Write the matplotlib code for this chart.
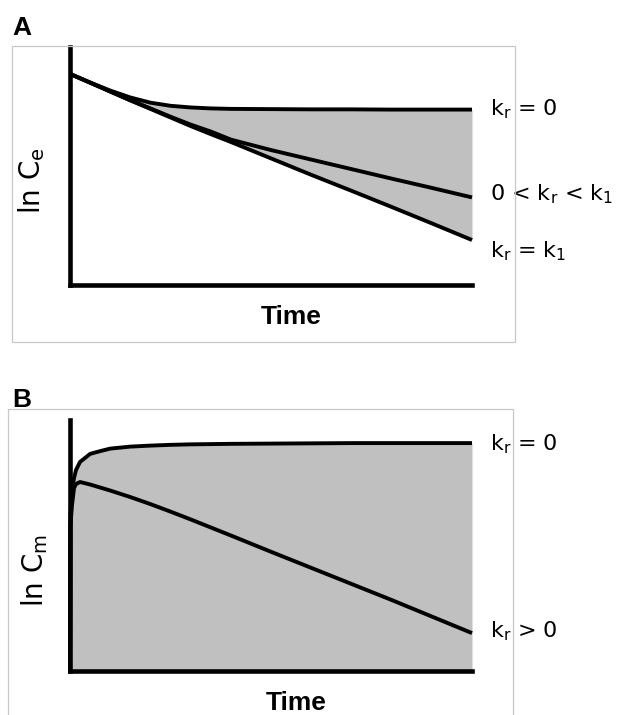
import numpy as np
import matplotlib
matplotlib.use("Agg")
import matplotlib.pyplot as plt
from matplotlib.patches import Rectangle

# panel A: ln Ce vs time, three cases of kr (arbitrary units, axes run 0-100)
time_a = [0, 5, 10, 15, 20, 25, 30, 35, 40, 50, 60, 70, 80, 90, 100]
kr0_a = [88.7, 85.1, 81.7, 78.8, 76.6, 75.3, 74.6, 74.2, 74.0, 73.9, 73.8, 73.8, 73.7, 73.7, 73.7]
krmid_a = [88.7, 85.0, 81.3, 77.6, 74.2, 70.7, 67.4, 64.5, 61.1, 56.7, 52.7, 48.7, 44.7, 40.8, 36.8]
krk1_a = [88.7, 85.0, 81.3, 77.6, 74.0, 70.4, 66.8, 63.4, 60.1, 53.2, 46.3, 39.6, 32.8, 25.9, 18.9]

# panel B: ln Cm vs time
time_b = [0, 0.1, 0.5, 1, 1.5, 2.5, 5, 7.5, 10, 15, 20, 25, 30, 40, 50, 60, 70, 80, 90, 100]
kr0_b = [0, 62.0, 72.1, 76.9, 80.1, 83.3, 86.5, 87.6, 88.6, 89.4, 89.8, 90.1, 90.3, 90.5,
         90.6, 90.7, 90.8, 90.8, 90.8, 90.8]
krpos_b = [0, 58.0, 66.1, 72.9, 74.5, 75.3, 74.3, 73.1, 71.9, 69.3, 66.5, 63.5, 60.4, 54.0,
           47.5, 41.1, 34.7, 28.3, 21.7, 15.1]

W, H = 618, 715
fig = plt.figure(figsize=(W / 100, H / 100), dpi=100)

gray = "#c0c0c0"
frame = "#c8c8c8"
lw_curve = 2.8
lw_axis = 3.3


def make_axes(left, top, right, bottom):
    ax = fig.add_axes([left / W, 1 - bottom / H, (right - left) / W, (bottom - top) / H])
    ax.set_xlim(0, 100)
    ax.set_ylim(0, 100)
    ax.set_xticks([])
    ax.set_yticks([])
    ax.patch.set_alpha(0)
    for side in ("top", "right"):
        ax.spines[side].set_visible(False)
    for side in ("left", "bottom"):
        ax.spines[side].set_linewidth(lw_axis)
        ax.spines[side].set_capstyle("projecting")
    return ax


def curve_label(ax, text, t, v, dy):
    ax.annotate(text, xy=(t, v), xytext=(18, dy), textcoords="offset pixels",
                ha="left", va="baseline", fontsize=16, family="DejaVu Sans",
                annotation_clip=False)


# light frames round each panel
fig.add_artist(Rectangle((12 / W, 1 - 342 / H), 503 / W, 296 / H, transform=fig.transFigure,
                         fill=False, ec=frame, lw=0.9))
fig.add_artist(Rectangle((8 / W, 1 - 730 / H), 505 / W, 321 / H, transform=fig.transFigure,
                         fill=False, ec=frame, lw=0.9))

# ---- A ----
ax1 = make_axes(70, 47, 472, 285)
ax1.fill_between(time_a, krk1_a, kr0_a, color=gray, lw=0, zorder=1)
for vals in (kr0_a, krmid_a, krk1_a):
    ax1.plot(time_a, vals, color="black", lw=lw_curve, clip_on=False, zorder=2,
             solid_capstyle="butt")
curve_label(ax1, r"k$_\mathrm{r}$ = 0", time_a[-1], kr0_a[-1], -6)
curve_label(ax1, r"0 < k$_\mathrm{r}$ < k$_\mathrm{1}$", time_a[-1], krmid_a[-1], -3)
curve_label(ax1, r"k$_\mathrm{r}$ = k$_\mathrm{1}$", time_a[-1], krk1_a[-1], -17)

# ---- B ----
ax2 = make_axes(70, 420, 472, 671)
ax2.fill_between(time_b, 0, kr0_b, color=gray, lw=0, zorder=1)
for vals in (kr0_b, krpos_b):
    ax2.plot(time_b, vals, color="black", lw=lw_curve, clip_on=False, zorder=2,
             solid_capstyle="butt", solid_joinstyle="round")
curve_label(ax2, r"k$_\mathrm{r}$ = 0", time_b[-1], kr0_b[-1], -7)
curve_label(ax2, r"k$_\mathrm{r}$ > 0", time_b[-1], krpos_b[-1], -4)

# axis titles and panel letters
fig.text(32 / W, 1 - 181 / H, r"ln C$_\mathrm{e}$", rotation=90, ha="center", va="center",
         fontsize=20, family="DejaVu Sans")
fig.text(35 / W, 1 - 570 / H, r"ln C$_\mathrm{m}$", rotation=90, ha="center", va="center",
         fontsize=20, family="DejaVu Sans")
fig.text(291 / W, 1 - 317 / H, "Time", ha="center", va="center", fontsize=19,
         fontweight="bold", family="Liberation Sans")
fig.text(296 / W, 1 - 703 / H, "Time", ha="center", va="center", fontsize=19,
         fontweight="bold", family="Liberation Sans")
fig.text(12 / W, 1 - 35 / H, "A", ha="left", va="baseline", fontsize=19,
         fontweight="bold", family="Liberation Sans")
fig.text(12 / W, 1 - 407 / H, "B", ha="left", va="baseline", fontsize=19,
         fontweight="bold", family="Liberation Sans")

fig.savefig("out.png", dpi=100)
